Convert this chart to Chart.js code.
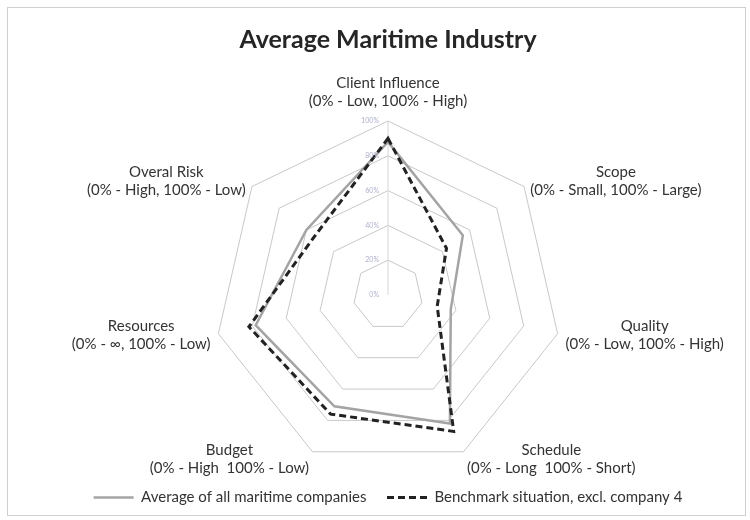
<!DOCTYPE html>
<html>
<head>
<meta charset="utf-8">
<script src="https://cdn.jsdelivr.net/npm/chart.js@4/dist/chart.umd.min.js"></script>
<style>
  html, body { margin: 0; padding: 0; background: #fff; }
  #wrap { position: relative; width: 750px; height: 520px; }
  #frame { position: absolute; left: 7px; top: 7px; width: 737px; height: 507px; border: 1px solid #cfcfcf; }
  #radar { position: absolute; left: 0; top: 0; }
</style>
</head>
<body>
<div id="wrap">
  <div id="frame"></div>
  <canvas id="radar" width="750" height="520"></canvas>
</div>
<script>
// axes, clockwise from the top
const axisNames = ['Client Influence', 'Scope', 'Quality', 'Schedule', 'Budget', 'Resources', 'Overal Risk'];
const axisScales = [
    '(0% - Low, 100% - High)',
    '(0% - Small, 100% - Large)',
    '(0% - Low, 100% - High)',
    '(0% - Long  100% - Short)',
    '(0% - High  100% - Low)',
    '(0% - \u221E, 100% - Low)',
    '(0% - High, 100% - Low)'
];

// scores in percent
const averageAll = [88, 55, 37, 82, 71, 78, 60];
const benchmark = [90, 43, 29, 87, 76, 82, 54];

const labelFont = '15px Lato';
const textColor = '#333333';

// two-line axis captions plus the small % tick labels on the vertical axis
const axisCaptions = {
    id: 'axisCaptions',
    afterDraw(chart) {
        const scale = chart.scales.r;
        const ctx = chart.ctx;
        const lineH = 18;
        ctx.save();
        ctx.font = labelFont;
        ctx.fillStyle = textColor;
        ctx.textAlign = 'center';
        ctx.textBaseline = 'middle';
        axisNames.forEach((name, i) => {
            const lines = [name, axisScales[i]];
            const w = Math.max(...lines.map(t => ctx.measureText(t).width));
            const p = scale.getPointPosition(i, scale.drawingArea + 8);
            let cx = p.x;
            let cy = p.y;
            if (i === 0) cy = p.y - 21;
            else if (p.x > scale.xCenter) cx = p.x + w / 2;
            else cx = p.x - w / 2;
            ctx.fillText(lines[0], cx, cy - lineH / 2);
            ctx.fillText(lines[1], cx, cy + lineH / 2);
        });

        ctx.font = '7px Lato';
        ctx.fillStyle = '#aeb0cc';
        ctx.textAlign = 'right';
        scale.ticks.forEach(t => {
            const d = scale.getDistanceFromCenterForValue(t.value);
            ctx.fillText(t.value + '%', scale.xCenter - 9, scale.yCenter - d);
        });
        ctx.restore();
    }
};

// legend samples take width and dash from the dataset line, not the (hidden) points
function lineLegendItems(chart) {
    return Chart.defaults.plugins.legend.labels.generateLabels(chart).map(item => {
        const ds = chart.data.datasets[item.datasetIndex];
        item.strokeStyle = ds.borderColor;
        item.lineWidth = ds.borderWidth;
        item.lineDash = ds.borderDash || [];
        return item;
    });
}

const ctx = document.getElementById('radar').getContext('2d');
const chart = new Chart(ctx, {
    type: 'radar',
    data: {
        labels: axisNames,
        datasets: [{
            label: 'Average of all maritime companies',
            data: averageAll,
            borderColor: '#a4a4a4',
            borderWidth: 2.5,
            fill: false,
            pointRadius: 0,
            order: 1
        }, {
            label: 'Benchmark situation, excl. company 4',
            data: benchmark,
            borderColor: '#222222',
            borderWidth: 3,
            borderDash: [7, 4],
            fill: false,
            pointRadius: 0,
            order: 0
        }]
    },
    options: {
        responsive: false,
        animation: false,
        devicePixelRatio: 1,
        layout: { padding: { left: 26, right: 0, top: 0, bottom: 5 } },
        scales: {
            r: {
                min: 0,
                max: 100,
                ticks: { stepSize: 20, display: false },
                grid: { color: '#c8c8c8', lineWidth: 1 },
                angleLines: { color: c => c.index === 0 ? '#d6d6d6' : 'rgba(0,0,0,0)' },
                pointLabels: { display: false }
            }
        },
        plugins: {
            title: {
                display: true,
                text: 'Average Maritime Industry',
                color: '#262626',
                font: { family: 'Lato', size: 25, weight: 'bold' },
                padding: { top: 25, bottom: 66 }
            },
            legend: {
                position: 'bottom',
                align: 'center',
                labels: {
                    usePointStyle: true,
                    pointStyle: 'line',
                    pointStyleWidth: 40,
                    padding: 20.5,
                    color: textColor,
                    font: { family: 'Lato', size: 15 },
                    generateLabels: lineLegendItems,
                    sort: (a, b) => a.datasetIndex - b.datasetIndex
                }
            },
            tooltip: { enabled: false }
        }
    },
    plugins: [axisCaptions]
});
</script>
</body>
</html>
